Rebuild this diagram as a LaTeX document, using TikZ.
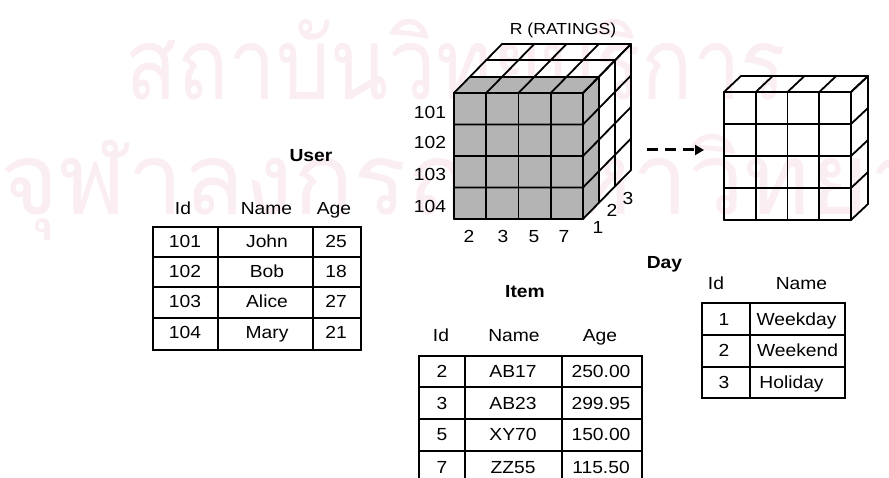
\documentclass[tikz,border=0pt]{standalone}
\usepackage{fontspec}
\setmainfont{Liberation Sans}[FakeStretch=1.1]
\newfontfamily\thaifont[Script=Thai]{Loma}
\usetikzlibrary{arrows.meta}
\definecolor{cellgray}{RGB}{180,180,180}
\definecolor{wmpink}{RGB}{251,238,242}
\tikzset{
  edge/.style={line width=1.8pt, line cap=round, line join=round},
  lbl/.style={font=\fontsize{17.5}{20}\selectfont, inner sep=0pt,
              text height=12.5pt, text depth=0pt},
  ttl/.style={lbl, font=\fontsize{17.5}{20}\selectfont\bfseries},
  wmark/.style={font=\fontsize{100}{110}\thaifont, text=wmpink,
                inner sep=0pt, anchor=base west},
  flow/.style={line width=3pt, dash pattern=on 11pt off 7pt,
               -{Triangle[length=9pt,width=10pt]}}
}
\begin{document}
\begin{tikzpicture}[x=1pt,y=-1pt]
\useasboundingbox (0,0) rectangle (889,478);
\fill[white] (0,0) rectangle (889,478);

% background seal text
\node[wmark] (wm1) at (125,100) {\scalebox{0.85}[1]{สถาบันวิทยบริการ}};
\node[wmark] (wm2) at (0,215) {จุฬาลงกรณ์มหาวิทยาลัย};

% ---------- ratings cube: 4 x 4 x 3 ----------
\fill[cellgray] (454,93) rectangle (583,219);
\fill[cellgray] (454,93) -- (583,93) -- (599,76.7) -- (470,76.7) -- cycle;
\fill[cellgray] (583,93) -- (599,76.7) -- (599,202.7) -- (583,219) -- cycle;
\foreach \i in {0,...,4}{
  \pgfmathsetmacro\xx{454+32.25*\i}
  \draw[edge] (\xx,93) -- (\xx,219);
  \draw[edge] (\xx,93) -- ++(48,-49);
}
\foreach \j in {0,...,4}{
  \pgfmathsetmacro\yy{93+31.5*\j}
  \draw[edge] (454,\yy) -- (583,\yy) -- ++(48,-49);
}
\foreach \k in {1,2,3}{
  \pgfmathsetmacro\dx{16*\k}
  \pgfmathsetmacro\dy{16.33*\k}
  \draw[edge] (454+\dx,93-\dy) -- (583+\dx,93-\dy) -- (583+\dx,219-\dy);
}
\coordinate (cubeA) at (631,150);

% ---------- result slab: 4 x 4 x 1 ----------
\foreach \i in {0,...,4}{
  \pgfmathsetmacro\xx{724+31.75*\i}
  \draw[edge] (\xx,92) -- (\xx,220);
  \draw[edge] (\xx,92) -- ++(17,-16);
}
\foreach \j in {0,...,4}{
  \pgfmathsetmacro\yy{92+32*\j}
  \draw[edge] (724,\yy) -- (851,\yy) -- ++(17,-16);
}
\draw[edge] (741,76) -- (868,76) -- (868,204);
\coordinate (cubeB) at (724,150);

% dashed arrow between the two blocks
\coordinate (arrS) at ([xshift=16pt]cubeA);
\coordinate (arrE) at ([xshift=-20pt]cubeB);
\draw[flow] (arrS) -- (arrE);

% cube labels
\node[lbl, font=\fontsize{16}{18}\selectfont] (rtitle) at (563,28) {R (RATINGS)};
\node[lbl] (r101) at (430,112) {101};
\node[lbl] (r102) at (430,142.5) {102};
\node[lbl] (r103) at (430,174) {103};
\node[lbl] (r104) at (430,206) {104};
\node[lbl] (c2) at (469,236) {2};
\node[lbl] (c3) at (503,236) {3};
\node[lbl] (c5) at (534,236) {5};
\node[lbl] (c7) at (564,236) {7};
\node[lbl] (d1) at (598,227) {1};
\node[lbl] (d2) at (612,210) {2};
\node[lbl] (d3) at (628,198) {3};

% ---------- User table ----------
\node[ttl] (utitle) at (311,155) {User};
\node[lbl] (uh1) at (183,208.5) {Id};
\node[lbl] (uh2) at (266.5,208.5) {Name};
\node[lbl] (uh3) at (334,208.5) {Age};
\draw[edge, line cap=butt, line join=miter] (153,227) rectangle (361,350);
\foreach \yy in {257,287,318}{\draw[edge] (153,\yy) -- (361,\yy);}
\foreach \xx in {218,313}{\draw[edge] (\xx,227) -- (\xx,350);}
\node[lbl] (u11) at (185,241) {101};
\node[lbl] (u12) at (267,241) {John};
\node[lbl] (u13) at (336,241) {25};
\node[lbl] (u21) at (185,271) {102};
\node[lbl] (u22) at (267,271) {Bob};
\node[lbl] (u23) at (336,271) {18};
\node[lbl] (u31) at (185,301.5) {103};
\node[lbl] (u32) at (267,301.5) {Alice};
\node[lbl] (u33) at (336,301.5) {27};
\node[lbl] (u41) at (185,332) {104};
\node[lbl] (u42) at (267,332) {Mary};
\node[lbl] (u43) at (336,332) {21};

% ---------- Item table ----------
\node[ttl] (ititle) at (525,291.5) {Item};
\node[lbl] (ih1) at (441,335.5) {Id};
\node[lbl] (ih2) at (514,335.5) {Name};
\node[lbl] (ih3) at (600,335.5) {Age};
\draw[edge, line cap=butt, line join=miter] (419,480) -- (419,356) -- (642,356) -- (642,480);
\foreach \yy in {387,419,451}{\draw[edge] (419,\yy) -- (642,\yy);}
\foreach \xx in {465,562}{\draw[edge] (\xx,356) -- (\xx,480);}
\node[lbl] (i11) at (442,371.5) {2};
\node[lbl] (i12) at (513,371.5) {AB17};
\node[lbl] (i13) at (601,371.5) {250.00};
\node[lbl] (i21) at (442,403.5) {3};
\node[lbl] (i22) at (513,403.5) {AB23};
\node[lbl] (i23) at (601,403.5) {299.95};
\node[lbl] (i31) at (442,434.5) {5};
\node[lbl] (i32) at (513,434.5) {XY70};
\node[lbl] (i33) at (601,434.5) {150.00};
\node[lbl] (i41) at (442,467) {7};
\node[lbl] (i42) at (513,467) {ZZ55};
\node[lbl] (i43) at (601,467) {115.50};

% ---------- Day table ----------
\node[ttl] (dtitle) at (664.5,262) {Day};
\node[lbl] (dh1) at (716,283.5) {Id};
\node[lbl] (dh2) at (801.5,283.5) {Name};
\draw[edge, line cap=butt, line join=miter] (702,303) rectangle (845,398);
\foreach \yy in {335,367}{\draw[edge] (702,\yy) -- (845,\yy);}
\draw[edge] (750,303) -- (750,398);
\node[lbl] (dd11) at (724,319.5) {1};
\node[lbl] (dd12) at (796.5,319.5) {Weekday};
\node[lbl] (dd21) at (724,350.5) {2};
\node[lbl] (dd22) at (797.5,350.5) {Weekend};
\node[lbl] (dd31) at (724,382.5) {3};
\node[lbl] (dd32) at (791.5,382.5) {Holiday};
\end{tikzpicture}
\end{document}
